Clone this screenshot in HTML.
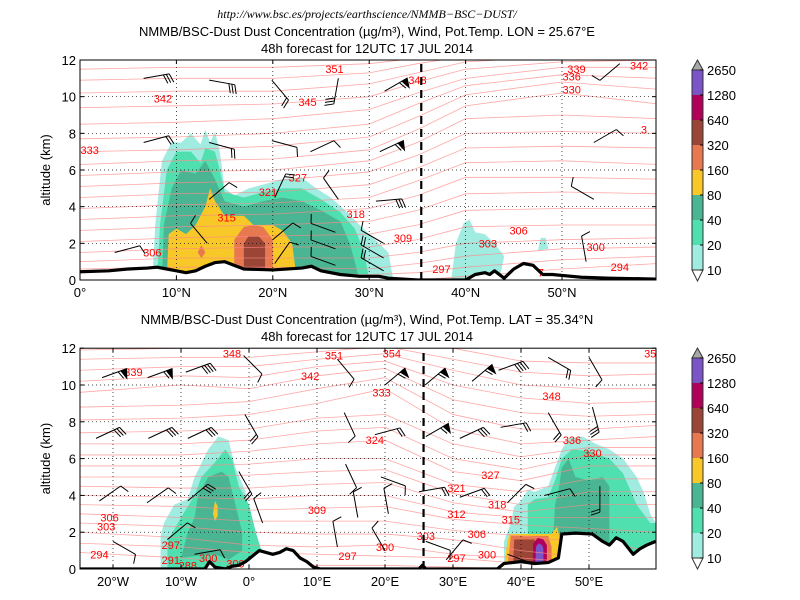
<!DOCTYPE html>
<html><head><meta charset="utf-8"><style>
html,body{margin:0;padding:0;background:#fff;}
svg{display:block;font-family:"Liberation Sans","DejaVu Sans",sans-serif;}
</style></head><body>
<svg id="chart" width="800" height="600" viewBox="0 0 800 600">
<defs>
<clipPath id="clipTop"><rect x="80" y="60" width="576" height="220"/></clipPath>
<clipPath id="clipBot"><rect x="80" y="348" width="576" height="221"/></clipPath>
</defs>
<text x="367" y="18" text-anchor="middle" font-family="Liberation Serif, serif" font-style="italic" font-size="12">http://www.bsc.es/projects/earthscience/NMMB−BSC−DUST/</text>
<text x="367" y="36" text-anchor="middle" font-size="13">NMMB/BSC-Dust Dust Concentration (µg/m³), Wind, Pot.Temp. LON = 25.67°E</text>
<text x="367" y="53" text-anchor="middle" font-size="13">48h forecast for 12UTC 17 JUL 2014</text>
<text x="367" y="324" text-anchor="middle" font-size="13">NMMB/BSC-Dust Dust Concentration (µg/m³), Wind, Pot.Temp. LAT = 35.34°N</text>
<text x="367" y="341" text-anchor="middle" font-size="13">48h forecast for 12UTC 17 JUL 2014</text>
<g id="gTop"></g>
<g id="gBot"></g>
<g id="gCb"></g>
</svg>
<script>
const colorLevels = ["10","20","40","80","160","320","640","1280","2650"];
const colorFills = ["#a0ece0","#50e0b0","#4ab593","#f8c828","#e87850","#9a4535","#b0005a","#7b55c8"];

const topThetaKnots = [0,10,20,30,35,40,50,60];
const topThetaLevels = [294,297,300,303,306,309,312,315,318,321,324,327,330,333,336,339,342,345,348,351];
const topThetaHeights = [
 [0,0,0,0,0,0.2,0.6,0.9],
 [0.3,0.3,0.3,0.3,0.4,0.7,1.1,1.3],
 [0.6,0.7,0.7,0.6,0.9,1.3,1.7,1.8],
 [1.0,1.2,1.2,1.2,1.5,2.0,2.2,2.3],
 [1.5,1.7,1.8,1.8,2.2,2.9,3.0,3.0],
 [2.1,2.3,2.4,2.5,3.0,3.8,3.9,3.9],
 [2.7,2.9,3.0,3.2,3.8,4.7,4.8,4.7],
 [3.3,3.5,3.6,3.9,4.6,5.6,5.6,5.5],
 [3.9,4.1,4.2,4.5,5.4,6.4,6.5,6.3],
 [4.5,4.7,4.8,5.2,6.1,7.2,7.3,7.2],
 [5.1,5.3,5.4,5.9,6.8,8.0,8.1,8.0],
 [5.7,5.9,6.0,6.5,7.5,8.8,9.0,8.8],
 [6.3,6.5,6.6,7.1,8.2,9.5,10.2,9.6],
 [7.0,7.1,7.3,7.8,8.9,10.1,10.8,10.4],
 [7.7,7.8,8.0,8.5,9.6,10.6,11.2,11.0],
 [8.5,8.6,8.8,9.3,10.2,11.0,11.6,11.6],
 [9.4,9.5,9.6,10.0,10.8,11.5,11.9,12.0],
 [10.2,10.3,10.3,10.7,11.3,11.9,12.2,12.3],
 [10.9,11.0,11.0,11.3,11.8,12.2,12.4,12.5],
 [11.5,11.6,11.6,11.8,12.1,12.5,12.6,12.7]
];
const topThetaLabels = [[7.5,1.5,"306"],[15.2,3.4,"315"],[19.5,4.8,"321"],[22.6,5.6,"327"],[28.6,3.6,"318"],[33.5,2.3,"309"],[37.5,0.6,"297"],[42.3,2.0,"303"],[45.5,2.7,"306"],[53.5,1.8,"300"],[56,0.7,"294"],[1,7.1,"333"],[8.6,9.9,"342"],[23.6,9.7,"345"],[26.4,11.5,"351"],[35,10.9,"348"],[51,10.4,"330"],[51,11.1,"336"],[51.5,11.5,"339"],[58,11.7,"342"],[58.5,8.2,"3"],[47.8,0.4,"7"]];
const topDust = [
 {lvl:0, pts:[[7.5,0],[7.8,3],[8.5,6.5],[9.5,7.5],[10.5,7.5],[11.5,8.0],[12.5,7.4],[13,8.2],[13.5,7.5],[14,8.1],[14.5,7],[15,5],[16,4.6],[17.5,5],[19,5.2],[21,5.5],[23,5.6],[24.5,5],[26,4.5],[27.5,3.8],[29,3],[30,2.5],[31,2.0],[32,1.5],[32.5,0]]},
 {lvl:0, pts:[[38.5,0],[39,2],[39.8,3.1],[40.4,3.3],[41,2.6],[42,2.5],[43,2.0],[44,1.3],[43.5,0]]},
 {lvl:0, pts:[[47.5,1.6],[47.8,2.3],[48.3,2.3],[48.6,1.7]]},
 {lvl:1, pts:[[8,0],[8.3,3],[9,6],[10,7],[11.5,7.0],[12.5,6.4],[13,7.2],[14,7],[14.5,6],[15,4.8],[17,4.5],[19,4.8],[21,5],[23,5],[25,4.4],[27,3.7],[28.5,2.8],[29.5,1.5],[30,0]]},
 {lvl:2, pts:[[8.5,0],[8.7,3],[9.5,5],[10.5,6.0],[12,5.8],[13,6.5],[14,5.5],[15,4.3],[17,4.0],[19,4.3],[21,4.5],[23,4.3],[25,3.8],[27,3.2],[28,2.0],[29,0]]},
 {lvl:3, pts:[[9,0],[9.2,2.5],[10,2.8],[11,2.5],[12,3.0],[13,4.0],[13.5,5.0],[14,4.3],[15,3.5],[17,3.5],[18,3.0],[20,3.0],[21,2.7],[22,2.0],[22.5,0]]},
 {lvl:4, pts:[[16,0],[16,2.2],[17,2.9],[18,3.0],[19,2.9],[20,2.2],[20,0]]},
 {lvl:4, pts:[[12.2,1.5],[12.6,1.9],[13,1.5],[12.6,1.2]]},
 {lvl:5, pts:[[17,0],[17,2.0],[17.5,2.4],[18.5,2.4],[19.2,2.0],[19.2,0]]}
];
const topTerrain = [[0,0.45],[3,0.5],[5,0.6],[7,0.65],[8,0.7],[9,0.6],[10,0.5],[11,0.4],[12,0.5],[13,0.75],[14,0.95],[15,1.0],[16,0.8],[17,0.6],[20,0.55],[23,0.65],[24,0.75],[25,0.5],[27,0.3],[29,0.2],[31,0.2],[32,0.1],[35,0],[40,0],[41,0.3],[42,0.4],[42.5,0.3],[43,0.5],[44,0.1],[45,0.6],[46,0.9],[47,0.8],[48,0.3],[49,0.3],[50,0.25],[52,0.15],[55,0.1],[59.8,0.05]];
const topBarbs = [[6.6,11.0,-10,3],[13.4,10.9,10,3],[19.9,10.9,50,2],[26.8,11.0,100,3],[31.6,10.3,-30,-1],[56.0,11.8,140,1],[6.6,7.5,-15,2],[13.4,7.5,15,2],[19.9,7.6,15,1],[23.9,7.0,-25,1],[31.1,7.0,-25,-1],[53.3,7.5,-30,1],[13.4,4.4,-40,1],[20.2,4.5,-65,2],[26.8,4.4,-125,1],[30.7,4.3,-5,3],[53.3,4.4,-150,1],[3.6,1.5,-15,1],[13.2,2.0,-130,1],[20.2,0.9,-55,1],[20,2.2,-40,1],[26.5,0.8,200,1],[26.5,1.7,200,1],[26.5,2.6,200,1],[31.5,0.5,-150,2],[31.5,1.2,-150,2],[31.5,2.0,-150,1],[52.5,1.0,-100,1]];
const topXTicks = [0,10,20,30,40,50];
const topXTickLabels = ["0°","10°N","20°N","30°N","40°N","50°N"];
const topSection = 35.4;

const botThetaKnots = [-25,-10,0,10,20,30,40,50,60];
const botThetaLevels = [294,297,300,303,306,309,312,315,318,321,324,327,330,333,336,339,342,345,348,351];
const botThetaHeights = [
 [0.9,0.6,0.3,0.2,0.2,0.1,0,0,0],
 [1.4,1.2,0.9,0.8,0.7,0.6,0.3,0.1,0],
 [2.0,1.7,1.3,1.2,1.3,0.8,0.6,0.3,0.1],
 [2.5,2.3,2.0,1.9,1.9,1.6,1.0,0.6,0.3],
 [3.0,2.8,2.6,2.6,2.6,2.1,1.8,1.4,1.0],
 [3.5,3.4,3.2,3.3,3.4,2.7,2.4,2.2,2.0],
 [4.0,3.9,3.8,4.0,4.0,3.1,2.8,2.8,2.8],
 [4.5,4.4,4.4,4.6,4.7,3.6,3.1,3.5,3.5],
 [5.0,5.0,5.1,5.3,5.4,4.1,3.5,4.2,4.2],
 [5.6,5.6,5.7,6.0,6.0,4.6,4.2,4.9,4.9],
 [6.2,6.2,6.4,6.8,7.0,5.3,4.8,5.6,5.6],
 [6.8,6.8,7.0,7.5,7.7,6.0,5.4,6.2,6.2],
 [7.4,7.5,7.6,8.2,8.4,6.8,6.1,6.6,6.6],
 [8.1,8.2,8.4,9.0,9.8,7.6,6.8,7.0,7.2],
 [8.8,8.9,9.1,9.8,10.4,8.4,7.6,7.6,7.8],
 [9.6,10.0,9.8,10.5,10.9,9.2,8.5,8.3,8.4],
 [10.2,10.5,10.4,11.0,11.3,10.0,9.3,9.0,9.1],
 [10.8,11.0,11.0,11.4,11.7,10.8,10.0,9.8,9.8],
 [11.4,11.5,11.5,11.8,12.1,11.4,10.7,10.5,10.6],
 [11.9,12.0,12.0,12.2,12.4,12.0,11.3,11.2,11.2]
];
const botThetaLabels = [[-20.5,2.8,"306"],[-21,2.3,"303"],[-11.5,1.3,"297"],[-22,0.8,"294"],[-11.5,0.5,"291"],[-9,0.2,"288"],[-6,0.6,"300"],[-2,0.3,"300"],[-17,10.7,"339"],[-2.5,11.7,"348"],[12.5,11.6,"351"],[21,11.7,"354"],[9,10.5,"342"],[19.5,9.6,"333"],[18.5,7.0,"324"],[10,3.2,"309"],[14.5,0.7,"297"],[20,1.2,"300"],[26,1.8,"303"],[30.5,3.0,"312"],[36.5,3.5,"318"],[30.5,4.4,"321"],[35.5,5.1,"327"],[38.5,2.7,"315"],[33.5,1.9,"306"],[30.5,0.6,"297"],[35,0.8,"300"],[44.5,9.4,"348"],[47.5,7.0,"336"],[50.5,6.3,"330"],[59,11.7,"35"]];
const botDust = [
 {lvl:0, pts:[[-13,0],[-13,1.8],[-12.5,2.5],[-11,3.5],[-9,3.8],[-8,5.0],[-6,6.5],[-4.5,7.2],[-3,7.0],[-2,5.5],[-0.5,4.2],[0,3],[0.5,2.5],[1,1.5],[2,1.0],[3.5,0.5],[4,0]]},
 {lvl:0, pts:[[5,0],[5.2,1.2],[5.8,1.2],[6.2,0]]},
 {lvl:0, pts:[[37.5,0],[37.5,1.5],[38.5,2.5],[39,3.4],[40,3.7],[41,4.3],[42,4.2],[44,4.5],[45,5.5],[46,6.5],[47,7.1],[49,7.2],[51,6.8],[53,6.5],[55,6.0],[57,5.0],[58,4.2],[59,3.0],[59.8,2.5],[59.8,0]]},
 {lvl:1, pts:[[-12,0],[-12,1.5],[-10,2.8],[-8,4.0],[-7,5.0],[-5,5.8],[-3.5,6.5],[-2.5,6.0],[-1.5,4.5],[0,3.5],[1,2.0],[2,0.8],[2.5,0]]},
 {lvl:1, pts:[[41,0],[41,3.5],[42,3.8],[44,3.9],[45,4.8],[46,6.0],[47.5,6.5],[50,6.4],[53,6.0],[55,5.2],[57,3.5],[59,2.5],[59.8,2.5],[59.8,0]]},
 {lvl:2, pts:[[-10,0.6],[-9,2.0],[-8,2.8],[-7.5,4.0],[-6,5.0],[-4,5.3],[-3,5.0],[-2,3.5],[-1,2],[-1,1.0],[-3,0.5],[-5,0.8],[-8,0.7]]},
 {lvl:2, pts:[[44.5,0],[45,3.5],[45.5,4.2],[46,5.5],[47,6],[48,5],[50,4.8],[52,5.0],[53,4.5],[53,0]]},
 {lvl:3, pts:[[-5.3,3.0],[-5.0,3.7],[-4.6,3.4],[-4.6,2.9],[-5.0,2.6]]},
 {lvl:3, pts:[[37.5,0],[38,1.5],[38.3,1.9],[44.5,1.9],[45.3,2.3],[45.7,1.7],[45.5,0]]},
 {lvl:4, pts:[[38,0],[38.5,1.8],[44,1.8],[44.5,1.2],[44.5,0]]},
 {lvl:5, pts:[[38.8,0],[39,1.6],[42,1.6],[42.5,0]]},
 {lvl:6, pts:[[41.7,0],[41.8,1.4],[42.5,1.7],[43.3,1.6],[43.8,1.3],[43.8,0]]},
 {lvl:7, pts:[[42.1,0],[42.2,1.2],[42.6,1.4],[43.1,1.3],[43.3,1.1],[43.3,0]]}
];
const botTerrain = [[-25,0],[-6.5,0],[-5.8,0.4],[-5,0.1],[-3.5,0],[-2.5,0.15],[-1.5,0.2],[-0.5,0.4],[0.5,0.7],[1.5,1.0],[2.5,0.9],[3.5,0.8],[4.5,0.9],[5.5,1.1],[6.5,1.0],[7.5,0.6],[8.5,0.4],[9.5,0.1],[10.5,0],[25,0],[25.5,0.2],[26,0],[36.5,0],[37.5,0.3],[40,0.4],[42,0.3],[44,0.35],[45.5,0.6],[46,1.9],[48,1.95],[50.5,1.9],[52,1.5],[53,1.3],[54,1.7],[55,1.5],[56.5,0.8],[57.5,1.1],[58.5,1.3],[59.8,1.5]];
const botBarbs = [[-21.6,10.4,-20,-1],[-14.9,10.4,-20,-1],[-9.3,10.7,-20,4],[-0.8,11.6,45,1],[13,11.4,50,1],[20,10.0,-40,-1],[25.9,10.0,-40,-1],[32.8,10.2,-40,-1],[36.7,10.8,-20,4],[44,11.5,30,2],[50,11.5,60,1],[-22.5,7.1,-25,3],[-14.8,7.1,-25,3],[-9.0,7.1,-25,3],[-0.6,8.4,60,2],[14,8.5,65,1],[18.5,7.3,-15,2],[26,7.2,-30,-1],[31,7.1,-25,3],[37,7.7,-10,2],[44,8.5,60,2],[50.5,8.8,75,3],[-22,3.7,-35,1],[-15,3.6,-35,1],[-9,3.7,-40,3],[-1.5,5.3,60,2],[14.2,5.7,65,1],[19.4,5.0,20,1],[25,4.2,-10,2],[31,3.9,-20,2],[38,3.6,-45,1],[43.5,4.0,-15,1],[51.6,4.5,90,2],[-20,1.5,30,1],[-12,1.6,-40,1],[-8,0.8,-10,1],[13,1.2,-100,1],[20,1.0,-120,1],[26,1.5,20,1],[29,0.5,-50,1],[38,0.8,20,1],[2,2.5,-110,1],[16,2.8,-100,1],[20.5,3.0,-100,1]];
const botXTicks = [-20,-10,0,10,20,30,40,50];
const botXTickLabels = ["20°W","10°W","0°","10°E","20°E","30°E","40°E","50°E"];
const botSection = 25.67;

const yTicks = [0,2,4,6,8,10,12];

const NS="http://www.w3.org/2000/svg";
function mk(tag, parent, attrs){const e=document.createElementNS(NS,tag);for(const k in attrs)e.setAttribute(k,attrs[k]);parent.appendChild(e);return e;}

function drawPanel(g, cfg){
  const X=cfg.X, Y=cfg.Y;
  const plot=mk('g',g,{'clip-path':'url(#'+cfg.clip+')'});
  
  
  cfg.dust.forEach(function(d){
    const p=mk('polygon',plot,{points:d.pts.map(q=>X(q[0])+','+Y(q[1])).join(' '),fill:colorFills[d.lvl],stroke:'none'});
    
    
  });
  cfg.levels.forEach(function(lv,i){
    const pts=cfg.knots.map((k,j)=>X(k)+','+Y(cfg.heights[i][j])).join(' ');
    const l=mk('polyline',plot,{points:pts,fill:'none',stroke:'#ff8a8a','stroke-width':0.8,'stroke-opacity':0.75});
    
    
  });
  const tp=cfg.terrain.map(q=>X(q[0])+','+Y(q[1]));
  const first=cfg.terrain[0], last=cfg.terrain[cfg.terrain.length-1];
  const mask=mk('polygon',plot,{points:tp.join(' ')+' '+X(last[0])+','+Y(-1)+' '+X(first[0])+','+Y(-1),fill:'#fff'});
  
  
  cfg.xticks.forEach(function(t){
    const gl=mk('line',plot,{x1:X(t),x2:X(t),y1:Y(0),y2:Y(12),stroke:'#000','stroke-width':0.7,'stroke-dasharray':'1,3'});
    
    
  });
  yTicks.forEach(function(t){
    const gl=mk('line',plot,{x1:cfg.x0,x2:cfg.x1,y1:Y(t),y2:Y(t),stroke:'#000','stroke-width':0.7,'stroke-dasharray':'1,3'});
    
    
  });
  cfg.labels.forEach(function(lb){
    const t=mk('text',plot,{x:X(lb[0]),y:Y(lb[1])+4,'text-anchor':'middle','font-size':11,fill:'#ff0000'});
    t.textContent=lb[2];
    
    
  });
  cfg.barbs.forEach(function(b){
    const bx=X(b[0]), by=Y(b[1]), a=b[2]*Math.PI/180, L=26;
    const ux=Math.cos(a), uy=Math.sin(a);
    const ex=bx+ux*L, ey=by+uy*L;
    const px=-uy, py=ux;
    const grp=mk('g',plot,{stroke:'#000','stroke-width':1,fill:'#000'});
    
    
    mk('line',grp,{x1:bx,y1:by,x2:ex,y2:ey});
    if(b[3]<0){
      const fx=ex-ux*6, fy=ey-uy*6;
      mk('polygon',grp,{points:ex+','+ey+' '+fx+','+fy+' '+(ex-ux*3+px*9)+','+(ey-uy*3+py*9)});
      mk('line',grp,{x1:fx-ux*3,y1:fy-uy*3,x2:fx-ux*3+px*8+ux*3,y2:fy-uy*3+py*8+uy*3});
    } else {
      for(let k=0;k<b[3];k++){
        const sx=ex-ux*3*k, sy=ey-uy*3*k;
        mk('line',grp,{x1:sx,y1:sy,x2:sx+px*9+ux*3,y2:sy+py*9+uy*3});
      }
    }
  });
  const tl=mk('polyline',plot,{points:tp.join(' '),fill:'none',stroke:'#000','stroke-width':3.2,'stroke-linejoin':'round'});
  
  
  const sl=mk('line',plot,{x1:X(cfg.section),x2:X(cfg.section),y1:Y(0),y2:Y(12),stroke:'#000','stroke-width':2.2,'stroke-dasharray':'8,5'});
  
  
  const fr=mk('rect',g,{x:cfg.x0,y:Y(12),width:cfg.x1-cfg.x0,height:Y(0)-Y(12),fill:'none',stroke:'#000','stroke-width':1});
  
  
  cfg.xticks.forEach(function(t,i){
    mk('line',g,{x1:X(t),x2:X(t),y1:Y(0),y2:Y(0)-4,stroke:'#000'});
    mk('line',g,{x1:X(t),x2:X(t),y1:Y(12),y2:Y(12)+4,stroke:'#000'});
    const tx=mk('text',g,{x:X(t),y:Y(0)+17,'text-anchor':'middle','font-size':13});
    tx.textContent=cfg.xlabels[i];
    
    
  });
  yTicks.forEach(function(t){
    mk('line',g,{x1:cfg.x0,x2:cfg.x0+4,y1:Y(t),y2:Y(t),stroke:'#000'});
    mk('line',g,{x1:cfg.x1,x2:cfg.x1-4,y1:Y(t),y2:Y(t),stroke:'#000'});
    const tx=mk('text',g,{x:cfg.x0-4,y:Y(t)+5,'text-anchor':'end','font-size':13});
    tx.textContent=String(t);
    
    
  });
  const yl=mk('text',g,{x:0,y:0,'text-anchor':'middle','font-size':13,transform:'translate(50,'+((Y(0)+Y(12))/2)+') rotate(-90)'});
  yl.textContent='altitude (km)';
  
  
}

drawPanel(document.getElementById('gTop'),{
  prefix:'top',clip:'clipTop',x0:80,x1:656,
  X:v=>80+v*9.64, Y:z=>280-z*18.333,
  dust:topDust, levels:topThetaLevels, knots:topThetaKnots, heights:topThetaHeights,
  labels:topThetaLabels, barbs:topBarbs, terrain:topTerrain,
  xticks:topXTicks, xlabels:topXTickLabels, section:topSection
});
drawPanel(document.getElementById('gBot'),{
  prefix:'bottom',clip:'clipBot',x0:80,x1:656,
  X:v=>249+v*6.8, Y:z=>569-z*18.4,
  dust:botDust, levels:botThetaLevels, knots:botThetaKnots, heights:botThetaHeights,
  labels:botThetaLabels, barbs:botBarbs, terrain:botTerrain,
  xticks:botXTicks, xlabels:botXTickLabels, section:botSection
});

function drawColorbar(top, name){
  const g=document.getElementById('gCb');
  const cb=mk('g',g,{});
  
  
  const x0=692, w=11, seg=25, n=colorFills.length, barTop=top+10, barBot=barTop+seg*n;
  mk('polygon',cb,{points:x0+','+barTop+' '+(x0+w/2)+','+top+' '+(x0+w)+','+barTop,fill:'#a8a8a8',stroke:'#333'});
  mk('polygon',cb,{points:x0+','+barBot+' '+(x0+w/2)+','+(barBot+11)+' '+(x0+w)+','+barBot,fill:'#fff',stroke:'#333'});
  for(let i=0;i<n;i++){
    const r=mk('rect',cb,{x:x0,y:barBot-(i+1)*seg,width:w,height:seg,fill:colorFills[i]});
    
    
  }
  mk('rect',cb,{x:x0,y:barTop,width:w,height:barBot-barTop,fill:'none',stroke:'#333','stroke-width':1});
  colorLevels.forEach(function(lv,i){
    const y=barBot-i*seg;
    mk('line',cb,{x1:x0+w-3,x2:x0+w,y1:y,y2:y,stroke:'#000'});
    const t=mk('text',cb,{x:x0+w+4,y:y+5,'font-size':13});
    t.textContent=lv;
    
    
  });
}
drawColorbar(60,'top-colorbar');
drawColorbar(348,'bottom-colorbar');
</script>
</body></html>
